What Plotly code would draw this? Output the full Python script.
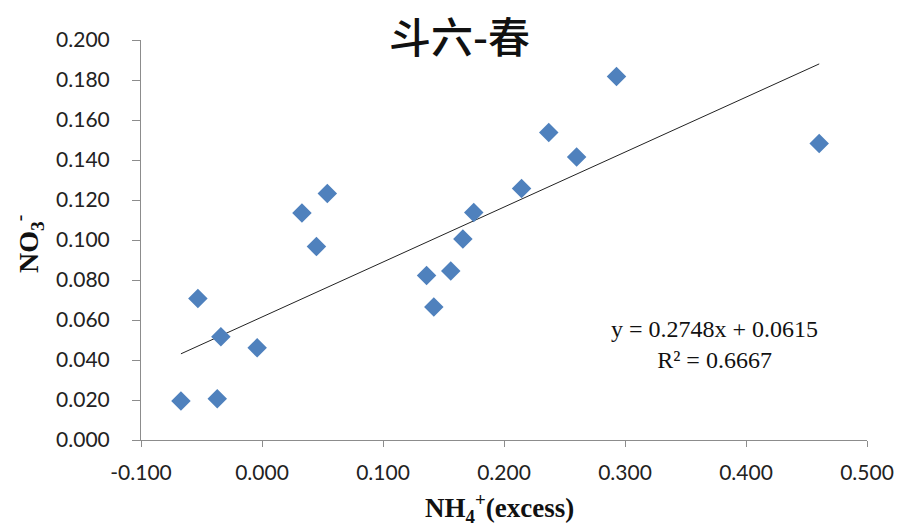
import plotly.graph_objects as go

nh4_excess = [-0.067, -0.053, -0.034, -0.037, -0.004, 0.033, 0.045, 0.054,
              0.136, 0.142, 0.156, 0.166, 0.175, 0.2145, 0.237, 0.260, 0.293, 0.4605]
no3 = [0.0195, 0.0707, 0.0516, 0.0206, 0.0461, 0.1135, 0.0967, 0.1232,
       0.0822, 0.0665, 0.0845, 0.1005, 0.1137, 0.1258, 0.1538, 0.1415, 0.1817, 0.1482]
slope = 0.2748
intercept = 0.0615
r2 = 0.6667

x_ticks = [-0.1, 0.0, 0.1, 0.2, 0.3, 0.4, 0.5]
x_labels = ["-0.100", "0.000", "0.100", "0.200", "0.300", "0.400", "0.500"]
y_ticks = [0.0, 0.02, 0.04, 0.06, 0.08, 0.10, 0.12, 0.14, 0.16, 0.18, 0.20]
y_labels = ["0.000", "0.020", "0.040", "0.060", "0.080", "0.100",
            "0.120", "0.140", "0.160", "0.180", "0.200"]

xfit = [min(nh4_excess), max(nh4_excess)]
yfit = [slope * v + intercept for v in xfit]

fig = go.Figure()
fig.add_trace(go.Scatter(x=xfit, y=yfit, mode="lines",
                         line=dict(color="#222222", width=1), hoverinfo="skip"))
fig.add_trace(go.Scatter(x=nh4_excess, y=no3, mode="markers",
                         marker=dict(symbol="diamond", size=15, color="#4F81BD",
                                     line=dict(width=0))))

tickfont = dict(family="Lato, Open Sans, sans-serif", size=21, color="#222")
fig.update_xaxes(range=[-0.1, 0.5], tickvals=x_ticks, ticktext=x_labels,
                 showgrid=False, zeroline=False, showline=True, linecolor="#8c8c8c",
                 linewidth=1, ticks="outside", ticklen=6, tickcolor="#8c8c8c",
                 ticklabelstandoff=8,
                 tickfont=tickfont, automargin=False)
fig.update_yaxes(range=[0, 0.2], tickvals=y_ticks, ticktext=y_labels,
                 showgrid=False, zeroline=False, showline=True, linecolor="#8c8c8c",
                 linewidth=1, ticks="outside", ticklen=8, tickcolor="#8c8c8c",
                 ticklabelstandoff=18,
                 tickfont=tickfont, automargin=False)

serif = "Liberation Serif, Times New Roman, serif"
fig.update_layout(
    width=897, height=527,
    margin=dict(l=141, r=30, t=40, b=87),
    plot_bgcolor="white", paper_bgcolor="white",
    showlegend=False,
    annotations=[
        dict(text="斗六-春", xref="paper", yref="paper", x=0.439, y=1.0, yshift=6,
             showarrow=False, xanchor="center", yanchor="middle",
             font=dict(family="Noto Sans CJK SC", size=42, color="#111", weight=500)),
        dict(text="<b>NH<sub>4</sub><sup>+</sup>(excess)</b>", xref="paper", yref="paper",
             x=0.494, y=0, yshift=-68, showarrow=False, xanchor="center", yanchor="middle",
             font=dict(family=serif, size=27, color="#111")),
        dict(text="<b>NO<sub>3</sub><sup>-</sup></b>", xref="paper", yref="paper",
             x=0, xshift=-113, y=0.49, showarrow=False, textangle=-90,
             xanchor="center", yanchor="middle",
             font=dict(family=serif, size=28, color="#111")),
        dict(text=f"y = {slope:.4f}x + {intercept:.4f}<br>R² = {r2:.4f}",
             xref="paper", yref="paper", x=0.79, y=0.24, showarrow=False,
             xanchor="center", yanchor="middle", align="center",
             font=dict(family=serif, size=24, color="#111")),
    ],
)

fig.write_html("out.html", config={"displayModeBar": False},
               post_script="document.body.style.margin='0';")
